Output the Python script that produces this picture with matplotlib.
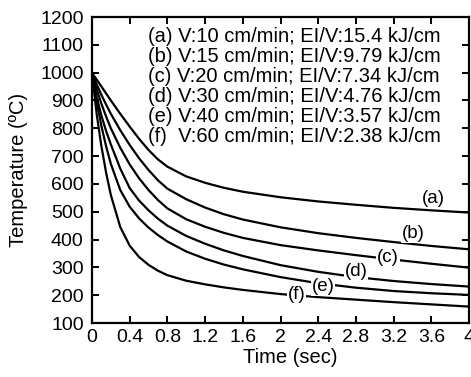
import matplotlib
matplotlib.use("Agg")
import matplotlib.pyplot as plt
import numpy as np

plt.rcParams['font.family'] = ['Liberation Sans', 'DejaVu Sans']

# time (sec)
t = [0, 0.025, 0.05, 0.1, 0.15, 0.2, 0.3, 0.4, 0.5, 0.6, 0.7, 0.8,
     1.0, 1.2, 1.4, 1.6, 2.0, 2.4, 2.8, 3.2, 3.6, 4.0]

# temperature (C)
temp_a = [1000, 987, 975, 950, 925, 900, 852, 806, 762, 722, 688, 662,
          627, 604, 586, 572, 552, 537, 525, 514, 505, 497]
temp_b = [1000, 978, 958, 920, 885, 852, 793, 740, 692, 650, 613, 583,
          545, 515, 491, 472, 444, 423, 406, 391, 377, 365]
temp_c = [1000, 968, 940, 888, 842, 800, 730, 670, 620, 578, 542, 512,
          473, 446, 424, 406, 380, 361, 344, 328, 313, 299]
temp_d = [1000, 955, 912, 845, 790, 742, 655, 585, 540, 505, 475, 450,
          413, 385, 361, 341, 308, 284, 265, 251, 240, 231]
temp_e = [1000, 945, 895, 808, 735, 672, 578, 518, 476, 443, 416, 393,
          357, 331, 310, 293, 265, 243, 227, 215, 207, 201]
temp_f = [1000, 925, 850, 735, 640, 560, 445, 378, 337, 309, 288, 272,
          252, 239, 228, 219, 204, 193, 184, 175, 167, 159]

curves = [temp_a, temp_b, temp_c, temp_d, temp_e, temp_f]
tags = ["(a)", "(b)", "(c)", "(d)", "(e)", "(f)"]
tag_x = [3.62, 3.41, 3.14, 2.80, 2.45, 2.17]
tag_y = [546, 420, 334, 285, 231, 201]

legend_lines = [
    "(a) V:10 cm/min; EI/V:15.4 kJ/cm",
    "(b) V:15 cm/min; EI/V:9.79 kJ/cm",
    "(c) V:20 cm/min; EI/V:7.34 kJ/cm",
    "(d) V:30 cm/min; EI/V:4.76 kJ/cm",
    "(e) V:40 cm/min; EI/V:3.57 kJ/cm",
    "(f)  V:60 cm/min; EI/V:2.38 kJ/cm",
]

fig = plt.figure(figsize=(4.71, 3.77), dpi=100)
ax = fig.add_axes([0.1953, 0.1432, 0.8005, 0.8117])

for temp in curves:
    ax.plot(t, temp, color="black", lw=1.6, zorder=2)

for tag, x, y in zip(tags, tag_x, tag_y):
    ax.text(x, y, tag, fontsize=13.5, ha="center", va="center", zorder=3,
            bbox=dict(facecolor="white", edgecolor="none", pad=0.5))

for i, line in enumerate(legend_lines):
    ax.text(0.594, 1129 - i * 72, line, fontsize=14.5, ha="left", va="center")

ax.set_xlim(0, 4)
ax.set_ylim(100, 1200)
xt = np.arange(0, 4.01, 0.4)
ax.set_xticks(xt)
ax.set_xticklabels(["%g" % round(v, 1) for v in xt])
ax.set_yticks(np.arange(100, 1201, 100))
ax.tick_params(direction="in", length=5, width=1.4, top=True, right=True,
               labelsize=14)
ax.tick_params(axis="y", pad=6)
ax.tick_params(axis="x", pad=4)
for s in ax.spines.values():
    s.set_linewidth(1.6)

ax.set_xlabel("Time (sec)", fontsize=14.5)
ax.set_ylabel("Temperature (ºC)", fontsize=14.5)
ax.xaxis.set_label_coords(0.525, -0.083)
ax.yaxis.set_label_coords(-0.17, 0.5)

fig.savefig("out.png", dpi=100)
